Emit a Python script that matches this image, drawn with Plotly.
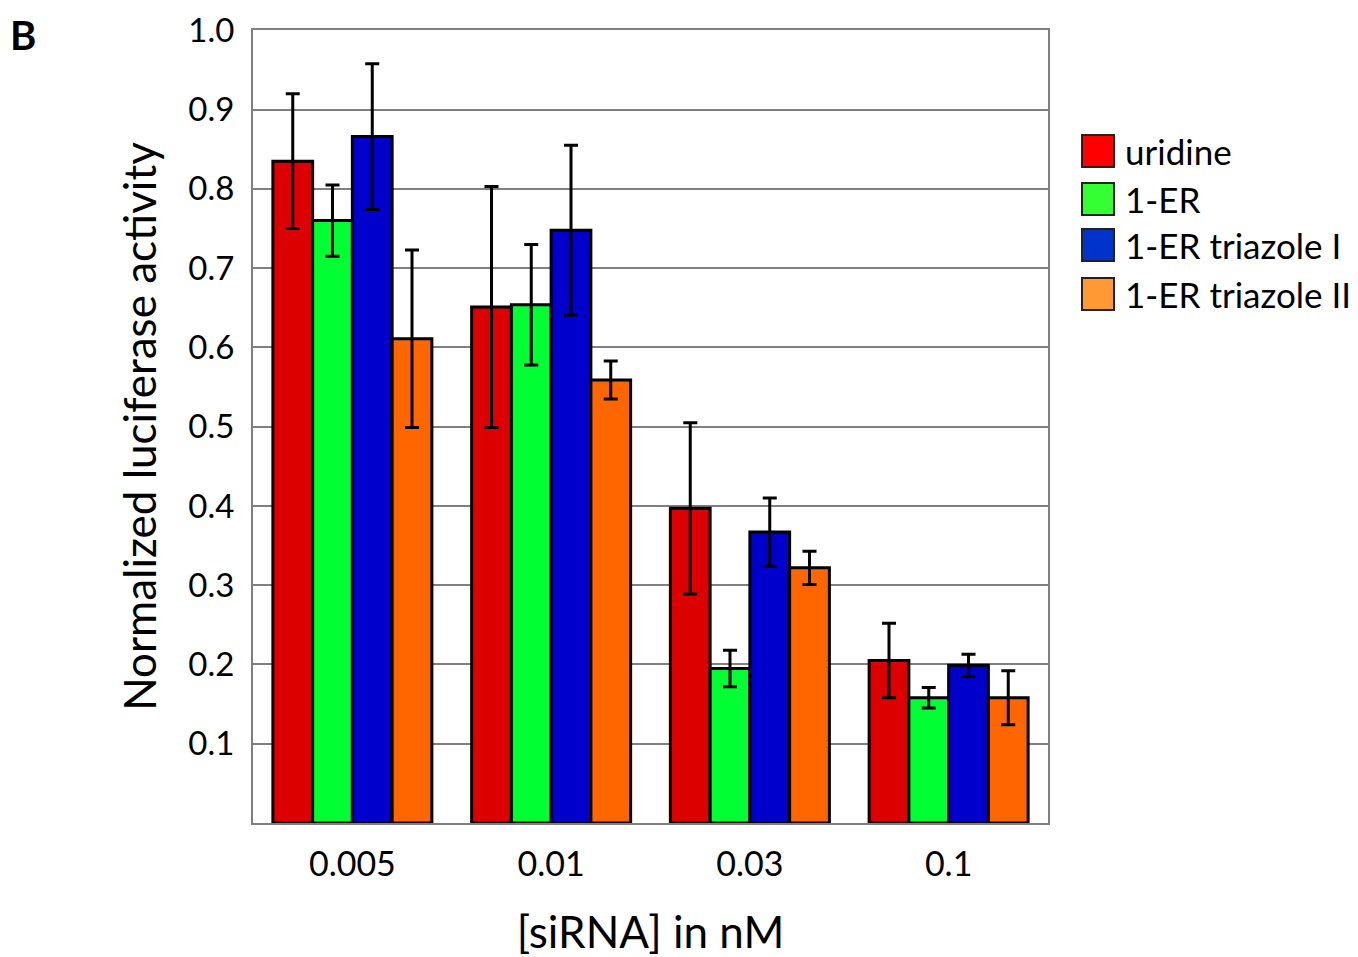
import plotly.graph_objects as go

categories = ["0.005", "0.01", "0.03", "0.1"]
series_names = ["uridine", "1-ER", "1-ER triazole I", "1-ER triazole II"]
uridine = [0.835, 0.651, 0.397, 0.205]
er1 = [0.760, 0.654, 0.195, 0.158]
triazole1 = [0.866, 0.748, 0.367, 0.199]
triazole2 = [0.611, 0.559, 0.322, 0.158]
uridine_err = [0.085, 0.152, 0.108, 0.047]
er1_err = [0.045, 0.076, 0.023, 0.013]
triazole1_err = [0.092, 0.107, 0.043, 0.014]
triazole2_err = [0.112, 0.024, 0.021, 0.034]
yticks = [0.1, 0.2, 0.3, 0.4, 0.5, 0.6, 0.7, 0.8, 0.9, 1.0]

bar_colors = ["#DD0000", "#00FF33", "#0000CC", "#FF6600"]
legend_colors = ["#FF0000", "#33FF33", "#0033CC", "#FF9933"]
values = [uridine, er1, triazole1, triazole2]
errors = [uridine_err, er1_err, triazole1_err, triazole2_err]

FONT = "Lato"
fig = go.Figure()
for name, vals, errs, col in zip(series_names, values, errors, bar_colors):
    fig.add_trace(go.Bar(
        x=categories, y=vals, name=name, showlegend=False,
        marker=dict(color=col, line=dict(color="black", width=3)),
        error_y=dict(type="data", array=errs, visible=True, color="black",
                     thickness=3, width=7),
    ))

# page offset of the figure (body margin)
OFF = 8
W0, W1 = 253, 1048
T0, B0 = 30, 823
def px(x):
    return (x - W0) / (W1 - W0)
def py(y):
    return (B0 - y) / (B0 - T0)

shapes = []
annotations = []
item_y = [151, 199, 245, 294]
for name, col, yc in zip(series_names, legend_colors, item_y):
    shapes.append(dict(type="rect", xref="paper", yref="paper",
                       x0=px(1082), x1=px(1114), y0=py(yc + 16), y1=py(yc - 16),
                       fillcolor=col, line=dict(color="#222222", width=2)))
    annotations.append(dict(text=name, xref="paper", yref="paper",
                            x=px(1123), y=py(yc), xanchor="left", yanchor="middle",
                            showarrow=False, font=dict(family=FONT, size=35, color="black")))
annotations.append(dict(text="<b>B</b>", xref="paper", yref="paper",
                        x=px(8), y=py(35), xanchor="left", yanchor="middle",
                        showarrow=False, font=dict(family=FONT, size=40, color="black")))

FW, FH = 1358 - OFF, 957 - OFF
fig.update_layout(
    width=FW, height=FH,
    margin=dict(l=W0 - OFF, r=FW - (W1 - OFF), t=T0 - OFF, b=FH - (B0 - OFF)),
    paper_bgcolor="white", plot_bgcolor="white",
    barmode="group", bargap=0.2, bargroupgap=0,
    font=dict(family=FONT, size=33, color="black"),
    shapes=shapes, annotations=annotations,
    xaxis=dict(
        title=dict(text="[siRNA] in nM", font=dict(size=44), standoff=36),
        showline=True, linecolor="#808080", linewidth=2, mirror=True,
        ticks="", tickfont=dict(size=34), ticklabelstandoff=10, automargin=False,
    ),
    yaxis=dict(
        title=dict(text="Normalized luciferase activity", font=dict(size=44), standoff=18),
        range=[0, 1.0005], tickvals=yticks, tickformat=".1f",
        showgrid=True, gridcolor="#808080", gridwidth=2,
        showline=True, linecolor="#808080", linewidth=2, mirror=True,
        ticks="", tickfont=dict(size=33), zeroline=False, ticklabelstandoff=10,
        ticklabeloverflow="allow", automargin=False,
    ),
)
fig.write_html("out.html")
